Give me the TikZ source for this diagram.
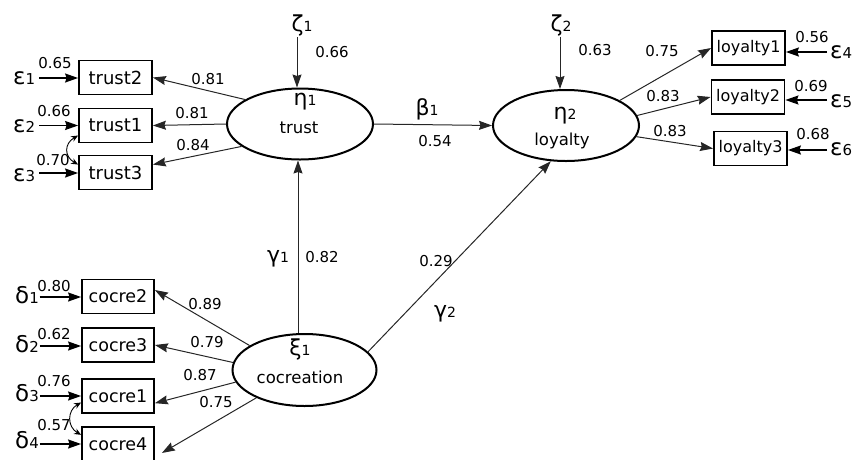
\documentclass[tikz,border=0pt]{standalone}
\usepackage{fontspec}
\setmainfont{DejaVu Sans}
\usetikzlibrary{shapes.geometric,arrows.meta}

% Greek symbol with a small digit on the same baseline
\newcommand\errlab[2]{{\fontsize{23}{23}\selectfont #1}{\fontsize{15}{15}\selectfont #2}}
\newcommand\latlab[2]{{\fontsize{22}{22}\selectfont #1}{\fontsize{14}{14}\selectfont #2}}

\begin{document}
\begin{tikzpicture}[x=1pt,y=1pt,
  obs/.style={draw, line width=1.8pt, minimum width=73pt, minimum height=34pt,
    inner sep=0pt, font=\fontsize{17.5}{17.5}\selectfont},
  lat/.style={draw, ellipse, line width=2pt, minimum width=146pt,
    minimum height=71pt, inner sep=0pt},
  load/.style={-{Stealth[length=13pt,width=9pt,inset=1.5pt]}, line width=1pt, black!85},
  errarr/.style={-{Stealth[length=13pt,width=9pt,inset=1.5pt]}, line width=1.4pt},
  cov/.style={{Stealth[length=7pt,width=6pt]}-{Stealth[length=7pt,width=6pt]}, line width=0.9pt},
  coef/.style={inner sep=0pt, font=\fontsize{15}{15}\selectfont},
  glab/.style={inner sep=0pt, anchor=base west},
  lbl/.style={inner sep=0pt, anchor=base},
  txt/.style={inner sep=0pt, anchor=base, font=\fontsize{16.5}{16.5}\selectfont}
]
\useasboundingbox (0,0) rectangle (852,-459);

% latent variables
\node[lat] (eta1) at (300,-124) {};
\node[lat] (eta2) at (566,-125.5) {};
\node[lat, minimum width=144pt, minimum height=72pt] (xi1) at (304.5,-370) {};

\node[lbl] (etalab1) at (305,-105) {\latlab{η}{1}};
\node[txt] (trusttxt) at (299,-133) {trust};
\node[lbl] (etalab2) at (565,-119) {\latlab{η}{2}};
\node[txt] (loyaltytxt) at (562,-145) {loyalty};
\node[lbl] (xilab) at (300,-355) {\latlab{ξ}{1}};
\node[txt] (cocretxt) at (300,-383) {cocreation};

% indicators
\node[obs, font=\fontsize{18}{18}\selectfont] (trust2) at (115.5,-77.5) {trust2};
\node[obs, font=\fontsize{18}{18}\selectfont] (trust1) at (115.5,-125.5) {trust1};
\node[obs, font=\fontsize{18}{18}\selectfont] (trust3) at (115.5,-172.5) {trust3};
\node[obs, minimum width=72pt] (cocre2) at (118,-296.5) {cocre2};
\node[obs, minimum width=72pt] (cocre3) at (118,-345) {cocre3};
\node[obs, minimum width=72pt] (cocre1) at (118,-396) {cocre1};
\node[obs, minimum width=72pt] (cocre4) at (118,-444) {cocre4};
\node[obs, font=\fontsize{16}{16}\selectfont] (loyalty1) at (748.5,-48) {loyalty1};
\node[obs, font=\fontsize{16}{16}\selectfont] (loyalty2) at (748,-97) {loyalty2};
\node[obs, font=\fontsize{16}{16}\selectfont] (loyalty3) at (750.5,-148.5) {loyalty3};

% structural paths
\draw[load] (eta1.east) -- (eta2.west);
\draw[load] ([xshift=-2pt]eta1.south |- xi1.north) -- ([xshift=-2pt]eta1.south);
\draw[load] (xi1.16) -- (eta2.247);

\node[lbl] (beta) at (427,-115) {\latlab{β}{1}};
\node[coef] at (435,-141) {0.54};
\node[lbl] (gam1) at (278,-262) {\latlab{γ}{1}};
\node[coef] at (322,-257) {0.82};
\node[lbl] (gam2) at (445,-317) {\latlab{γ}{2}};
\node[coef] at (436,-261) {0.29};

% disturbances
\node[lbl] (zeta1) at (302,-31) {\latlab{ζ}{1}};
\node[lbl] (zeta2) at (561,-31) {\latlab{ζ}{2}};
\coordinate (z1s) at (297,-37);
\coordinate (z2s) at (560,-37);
\draw[load] (z1s) -- (z1s |- eta1.north);
\draw[load] (z2s) -- (z2s |- eta2.north);
\node[coef] at (332,-52) {0.66};
\node[coef] at (595,-50) {0.63};

% loadings
\draw[load] (eta1.156) -- (trust2.east);
\draw[load] (eta1.west) -- (trust1.east);
\draw[load] (eta1.201) -- (trust3.12);
\node[coef] at (208,-79) {0.81};
\node[coef] at (192,-113) {0.81};
\node[coef] at (193,-145) {0.84};

\draw[load] (xi1.156) -- (cocre2.10);
\draw[load] (xi1.174) -- (cocre3.east);
\draw[load] (xi1.190) -- (cocre1.349);
\draw[load] (xi1.210) -- ([shift={(7pt,-9pt)}]cocre4.east);
\node[coef] at (205,-304) {0.89};
\node[coef] at (207,-342) {0.79};
\node[coef] at (200,-375) {0.87};
\node[coef] at (216,-402) {0.75};

\draw[load] (eta2.25) -- (loyalty1.west);
\draw[load] (eta2.8) -- (loyalty2.west);
\draw[load] (eta2.351) -- (loyalty3.west);
\node[coef] at (662,-51) {0.75};
\node[coef] at (663,-96) {0.83};
\node[coef] at (670,-131) {0.83};

% measurement errors, left
\node[glab] (eps1) at (13,-84) {\errlab{ε}{1}};
\node[glab] (eps2) at (13,-132) {\errlab{ε}{2}};
\node[glab] (eps3) at (13,-181) {\errlab{ε}{3}};
\coordinate (e1s) at (39,-78);
\coordinate (e2s) at (39,-125.5);
\coordinate (e3s) at (39,-173);
\draw[errarr] (e1s) -- (e1s -| trust2.west);
\draw[errarr] (e2s) -- (e2s -| trust1.west);
\draw[errarr] (e3s) -- (e3s -| trust3.west);
\node[coef] at (55,-63) {0.65};
\node[coef] at (54,-111) {0.66};
\node[coef] at (53,-160) {0.70};
\draw[cov] (trust1.195) .. controls +(-14,-8) and +(-14,8) .. (trust3.168);

\node[glab] (del1) at (15,-303) {\errlab{δ}{1}};
\node[glab] (del2) at (15,-352) {\errlab{δ}{2}};
\node[glab] (del3) at (15,-401) {\errlab{δ}{3}};
\node[glab] (del4) at (15,-448) {\errlab{δ}{4}};
\coordinate (d1s) at (39.5,-297);
\coordinate (d2s) at (39.5,-346);
\coordinate (d3s) at (39.5,-396);
\coordinate (d4s) at (39.5,-444);
\draw[errarr] (d1s) -- (d1s -| cocre2.west);
\draw[errarr] (d2s) -- (d2s -| cocre3.west);
\draw[errarr] (d3s) -- (d3s -| cocre1.west);
\draw[errarr] (d4s) -- (d4s -| cocre4.west);
\node[coef] at (54,-286) {0.80};
\node[coef] at (54,-334) {0.62};
\node[coef] at (54,-381) {0.76};
\node[coef] at (54,-425) {0.57};
\draw[cov] (cocre1.190) .. controls +(-14,-8) and +(-14,8) .. (cocre4.166);

% measurement errors, right
\node[glab] (eps4) at (830,-58) {\errlab{ε}{4}};
\node[glab] (eps5) at (830,-107) {\errlab{ε}{5}};
\node[glab] (eps6) at (830,-155) {\errlab{ε}{6}};
\coordinate (e4s) at (827,-52);
\coordinate (e5s) at (827,-100);
\coordinate (e6s) at (827,-150);
\draw[errarr] (e4s) -- (e4s -| loyalty1.east);
\draw[errarr] (e5s) -- (e5s -| loyalty2.east);
\draw[errarr] (e6s) -- (e6s -| loyalty3.east);
\node[coef] at (812,-37) {0.56};
\node[coef] at (811,-86) {0.69};
\node[coef] at (813,-134) {0.68};
\end{tikzpicture}
\end{document}
